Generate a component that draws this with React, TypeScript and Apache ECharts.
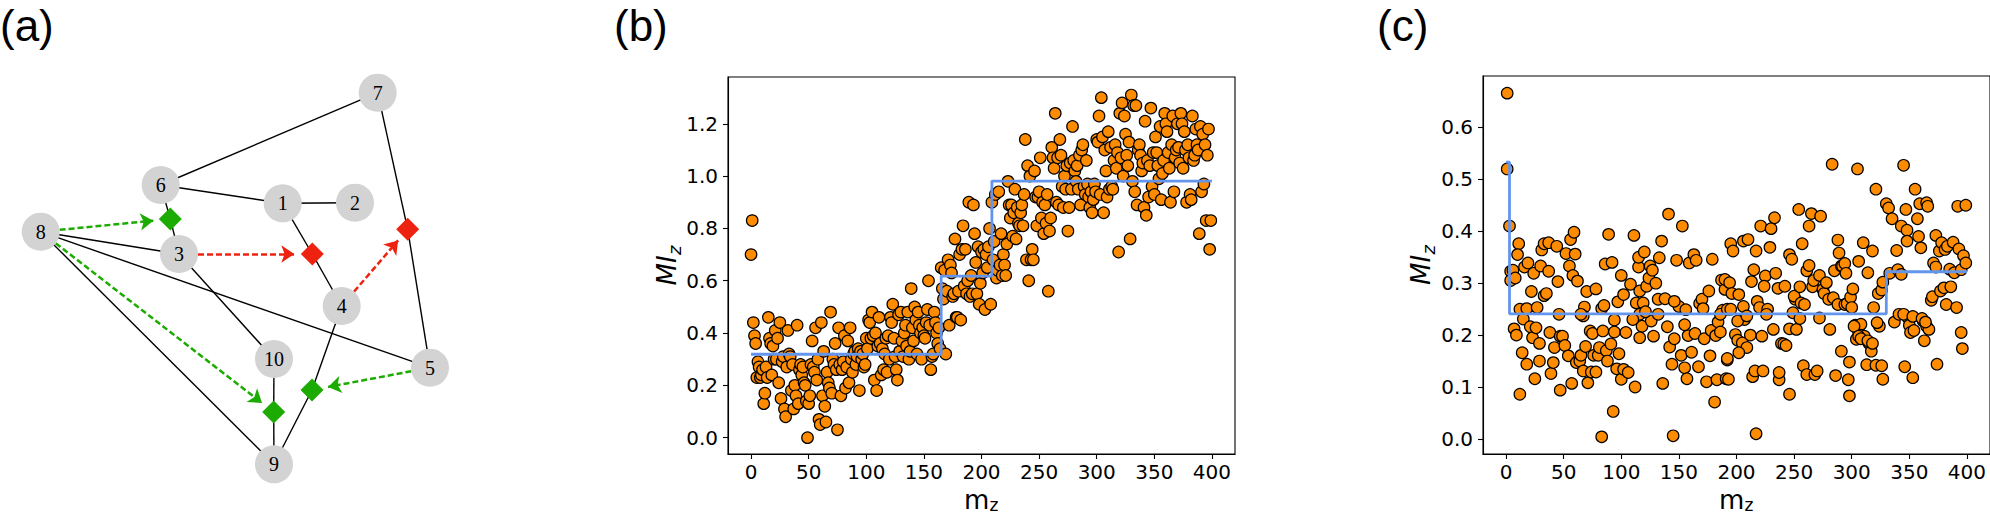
import React, { useEffect, useRef } from "react";
import * as echarts from "echarts";

// ---------- Panel (a): network ----------
const NODES: [string, number, number][] = [
  ["1", 282.7, 203.3], ["2", 355, 202.7], ["3", 179, 254], ["4", 341.7, 306],
  ["5", 430, 367.7], ["6", 160.7, 185], ["7", 377.7, 92.7], ["8", 40.7, 231.7],
  ["9", 274, 464.3], ["10", 274, 359],
];
const DIAMONDS: [string, number, number, string][] = [
  ["G1", 170.3, 219, "green"], ["R1", 312.3, 254, "red"], ["R2", 407.7, 229.3, "red"],
  ["G2", 312, 390, "green"], ["G3", 273.7, 412, "green"],
];
const EDGES: [string, string][] = [
  ["7", "6"], ["6", "1"], ["1", "2"], ["1", "R1"], ["R1", "4"], ["7", "R2"], ["R2", "5"],
  ["6", "G1"], ["G1", "3"], ["8", "3"], ["8", "5"], ["8", "9"], ["3", "10"],
  ["4", "G2"], ["G2", "9"], ["10", "G3"], ["G3", "9"],
];
const ARROWS: [string, string, string][] = [
  ["8", "G1", "green"], ["3", "R1", "red"], ["4", "R2", "red"], ["8", "G3", "green"], ["5", "G2", "green"],
];
const COLORS: Record<string, string> = { green: "#1cab00", red: "#ee2211" };

// ---------- Panel (b) ----------
const X_TICKS = [0, 50, 100, 150, 200, 250, 300, 350, 400];
const B_Y_TICKS = [0, 0.2, 0.4, 0.6, 0.8, 1.0, 1.2];
const B_MI = [
  0.70, 0.83, 0.44, 0.39, 0.36, 0.23, 0.29, 0.27, 0.23, 0.24,
  0.26, 0.13, 0.17, 0.27, 0.23, 0.46, 0.38, 0.36, 0.24, 0.35,
  0.30, 0.41, 0.30, 0.38, 0.21, 0.44, 0.15, 0.29, 0.31, 0.11,
  0.08, 0.27, 0.41, 0.32, 0.31, 0.18, 0.28, 0.11, 0.20, 0.16,
  0.43, 0.13, 0.26, 0.28, 0.24, 0.27, 0.21, 0.20, 0.14, 0.00,
  0.13, 0.16, 0.28, 0.37, 0.27, 0.25, 0.42, 0.22, 0.30, 0.07,
  0.05, 0.44, 0.16, 0.33, 0.12, 0.06, 0.25, 0.21, 0.19, 0.48,
  0.17, 0.30, 0.28, 0.36, 0.26, 0.03, 0.42, 0.28, 0.16, 0.26,
  0.29, 0.39, 0.19, 0.27, 0.37, 0.21, 0.42, 0.30, 0.25, 0.32,
  0.33, 0.28, 0.31, 0.34, 0.18, 0.33, 0.30, 0.32, 0.27, 0.28,
  0.38, 0.34, 0.45, 0.44, 0.38, 0.48, 0.39, 0.22, 0.40, 0.18,
  0.35, 0.46, 0.36, 0.24, 0.34, 0.26, 0.32, 0.38, 0.25, 0.39,
  0.30, 0.46, 0.44, 0.51, 0.38, 0.31, 0.26, 0.22, 0.47, 0.33,
  0.48, 0.37, 0.31, 0.40, 0.43, 0.35, 0.48, 0.30, 0.33, 0.57,
  0.42, 0.37, 0.50, 0.45, 0.32, 0.48, 0.43, 0.40, 0.30, 0.42,
  0.39, 0.38, 0.44, 0.49, 0.60, 0.43, 0.26, 0.31, 0.32, 0.48,
  0.44, 0.40, 0.36, 0.42, 0.34, 0.65, 0.57, 0.53, 0.64, 0.32,
  0.56, 0.68, 0.43, 0.66, 0.63, 0.54, 0.55, 0.76, 0.46, 0.46,
  0.56, 0.70, 0.45, 0.72, 0.81, 0.58, 0.72, 0.55, 0.60, 0.90,
  0.54, 0.62, 0.55, 0.89, 0.78, 0.67, 0.55, 0.73, 0.51, 0.59,
  0.71, 0.63, 0.72, 0.49, 0.70, 0.65, 0.73, 0.80, 0.51, 0.90,
  0.68, 0.75, 0.93, 0.61, 0.64, 0.94, 0.66, 0.78, 0.62, 0.70,
  0.66, 0.62, 0.74, 0.98, 0.89, 0.84, 0.89, 0.77, 0.86, 0.95,
  0.76, 0.88, 0.82, 0.81, 0.86, 0.89, 0.81, 0.93, 1.14, 0.68,
  1.04, 0.60, 1.00, 0.68, 0.72, 0.68, 1.02, 0.92, 0.81, 0.92,
  0.94, 1.07, 0.84, 0.90, 0.78, 0.89, 0.82, 0.93, 0.56, 0.79,
  0.84, 1.11, 1.07, 1.03, 1.24, 0.90, 1.07, 0.89, 1.14, 1.08,
  0.96, 0.88, 1.00, 0.95, 1.04, 0.79, 0.88, 1.05, 0.95, 1.19,
  1.06, 1.02, 0.98, 1.04, 0.95, 1.08, 0.89, 1.10, 1.12, 0.96,
  0.93, 1.06, 0.97, 0.92, 0.88, 0.94, 0.86, 0.91, 0.97, 0.94,
  1.14, 1.13, 1.23, 0.93, 1.30, 1.15, 0.86, 1.10, 1.02, 0.92,
  1.17, 0.95, 1.11, 0.96, 0.95, 1.06, 1.12, 1.03, 1.09, 0.71,
  1.24, 1.07, 1.28, 1.00, 1.23, 1.16, 1.08, 1.04, 1.13, 0.76,
  1.31, 0.98, 1.27, 0.94, 1.27, 0.89, 1.10, 1.12, 1.08, 1.02,
  1.05, 0.88, 1.21, 0.85, 1.06, 0.92, 1.04, 1.26, 0.96, 1.09,
  0.93, 1.15, 1.09, 1.04, 0.99, 1.19, 0.91, 1.01, 1.06, 1.24,
  1.20, 1.17, 1.09, 1.03, 0.90, 1.12, 1.23, 0.94, 1.07, 1.10,
  1.20, 1.11, 1.05, 1.24, 1.20, 1.03, 1.17, 1.10, 0.90, 1.12,
  1.07, 0.93, 0.91, 1.23, 1.06, 1.08, 1.18, 1.12, 1.10, 0.78,
  1.19, 0.94, 1.16, 0.97, 1.12, 0.83, 1.08, 1.18, 0.72, 0.83,
];
const B_STEP_EDGES = [0, 165, 209, 400];
const B_STEP_LEVELS = [0.319, 0.618, 0.981];

// ---------- Panel (c) ----------
const C_Y_TICKS = [0, 0.1, 0.2, 0.3, 0.4, 0.5, 0.6];
const C_POINTS: [number, number][] = [
  [1, 0.666], [1, 0.52], [3, 0.41], [4, 0.323], [6, 0.325], [4, 0.305], [8, 0.31], [11, 0.376], [10, 0.355], [12, 0.25],
  [7, 0.212], [9, 0.2], [15, 0.231], [18, 0.251], [16, 0.331], [19, 0.339], [12, 0.086], [14, 0.166], [18, 0.144], [21, 0.216],
  [23, 0.195], [24, 0.319], [26, 0.214], [27, 0.253], [29, 0.184], [25, 0.116], [29, 0.15], [22, 0.284], [30, 0.333], [31, 0.364],
  [33, 0.376], [33, 0.276], [35, 0.28], [37, 0.378], [37, 0.323], [38, 0.205], [39, 0.126], [41, 0.147], [42, 0.176], [44, 0.371],
  [45, 0.303], [46, 0.24], [47, 0.198], [47, 0.094], [49, 0.198], [51, 0.18], [52, 0.357], [55, 0.333], [56, 0.384], [58, 0.315],
  [59, 0.398], [60, 0.356], [62, 0.304], [54, 0.16], [57, 0.107], [61, 0.147], [64, 0.15], [65, 0.161], [69, 0.178], [68, 0.254],
  [67, 0.237], [70, 0.284], [67, 0.131], [71, 0.108], [73, 0.208], [74, 0.129], [75, 0.203], [76, 0.161], [78, 0.129], [78, 0.289],
  [80, 0.161], [81, 0.176], [83, 0.004], [83, 0.251], [85, 0.257], [86, 0.337], [84, 0.208], [87, 0.17], [88, 0.15], [89, 0.394],
  [91, 0.183], [92, 0.34], [93, 0.053], [94, 0.229], [94, 0.206], [96, 0.135], [97, 0.264], [98, 0.164], [100, 0.315], [100, 0.115],
  [102, 0.134], [102, 0.278], [104, 0.205], [106, 0.128], [108, 0.298], [111, 0.392], [112, 0.1], [113, 0.262], [115, 0.331], [115, 0.35],
  [116, 0.285], [118, 0.217], [119, 0.262], [116, 0.195], [120, 0.36], [122, 0.294], [124, 0.31], [125, 0.333], [126, 0.227], [127, 0.325],
  [128, 0.198], [130, 0.3], [132, 0.24], [132, 0.269], [133, 0.349], [135, 0.381], [136, 0.107], [138, 0.27], [140, 0.216], [141, 0.433],
  [142, 0.177], [144, 0.144], [145, 0.006], [146, 0.193], [148, 0.344], [150, 0.255], [152, 0.161], [153, 0.41], [155, 0.137], [156, 0.249],
  [157, 0.116], [158, 0.199], [159, 0.339], [161, 0.167], [163, 0.355], [164, 0.203], [165, 0.344], [167, 0.139], [168, 0.261], [170, 0.269],
  [171, 0.251], [172, 0.193], [174, 0.11], [176, 0.285], [177, 0.16], [178, 0.209], [179, 0.346], [181, 0.071], [182, 0.199], [183, 0.114],
  [184, 0.225], [186, 0.206], [187, 0.306], [188, 0.248], [190, 0.288], [191, 0.116], [192, 0.152], [116, 0.24], [121, 0.245], [207, 0.23],
  [186, 0.24], [65, 0.24], [110, 0.23], [146, 0.265], [155, 0.22],
  [190, 0.307], [194, 0.301], [195, 0.376], [197, 0.362], [192, 0.155], [193, 0.115], [196, 0.28], [202, 0.278], [201, 0.227], [206, 0.381],
  [210, 0.384], [206, 0.255], [209, 0.237], [199, 0.201], [201, 0.19], [205, 0.185], [209, 0.176], [212, 0.2], [202, 0.166], [217, 0.362],
  [215, 0.326], [213, 0.303], [214, 0.12], [216, 0.131], [221, 0.41], [218, 0.265], [220, 0.253], [223, 0.131], [222, 0.198], [225, 0.314],
  [224, 0.294], [227, 0.25], [229, 0.369], [230, 0.405], [232, 0.211], [233, 0.426], [234, 0.319], [236, 0.29], [237, 0.114], [237, 0.128],
  [239, 0.184], [241, 0.183], [242, 0.294], [243, 0.18], [246, 0.086], [246, 0.355], [248, 0.346], [246, 0.212], [251, 0.269], [250, 0.275],
  [252, 0.211], [254, 0.442], [255, 0.293], [257, 0.376], [256, 0.262], [259, 0.259], [258, 0.141], [261, 0.324], [261, 0.124], [263, 0.41],
  [263, 0.334], [265, 0.434], [266, 0.293], [267, 0.305], [268, 0.124], [270, 0.131], [272, 0.315], [273, 0.429], [275, 0.288], [276, 0.28],
  [278, 0.301], [280, 0.269], [281, 0.211], [283, 0.529], [284, 0.272], [285, 0.324], [286, 0.122], [288, 0.259], [288, 0.383], [289, 0.358],
  [291, 0.169], [291, 0.333], [292, 0.333], [294, 0.338], [294, 0.259], [295, 0.319], [296, 0.261], [298, 0.148], [299, 0.273], [297, 0.114],
  [300, 0.253], [301, 0.289], [303, 0.219], [304, 0.192], [305, 0.52], [306, 0.342], [306, 0.205], [308, 0.221], [308, 0.2], [310, 0.378],
  [311, 0.198], [313, 0.143], [314, 0.32], [315, 0.184], [317, 0.169], [318, 0.362], [319, 0.253], [321, 0.481], [321, 0.142], [323, 0.28],
  [324, 0.217], [326, 0.141], [327, 0.115], [326, 0.287], [327, 0.302], [330, 0.453], [332, 0.445], [333, 0.319], [335, 0.424], [337, 0.225],
  [339, 0.363], [340, 0.326], [341, 0.24], [343, 0.41], [343, 0.317], [345, 0.527], [346, 0.139], [347, 0.442], [348, 0.402], [348, 0.381],
  [349, 0.233], [350, 0.219], [351, 0.205], [353, 0.118], [354, 0.209], [355, 0.481], [357, 0.424], [358, 0.39], [359, 0.453], [360, 0.368],
  [362, 0.227], [363, 0.189], [365, 0.455], [366, 0.448], [365, 0.217], [367, 0.211], [369, 0.267], [370, 0.274], [371, 0.339], [373, 0.392],
  [373, 0.331], [374, 0.144], [376, 0.362], [377, 0.285], [378, 0.378], [380, 0.291], [381, 0.365], [382, 0.259], [383, 0.371], [385, 0.327],
  [386, 0.293], [388, 0.379], [389, 0.32], [391, 0.253], [392, 0.448], [393, 0.366], [395, 0.326], [395, 0.205], [396, 0.174], [397, 0.353],
  [399, 0.45], [399, 0.339], [192, 0.25], [195, 0.25], [226, 0.24], [249, 0.243], [255, 0.232], [272, 0.233], [322, 0.224], [345, 0.24],
  [353, 0.236], [361, 0.232], [364, 0.225], [302, 0.217], [306, 0.198], [308, 0.193], [314, 0.189], [318, 0.184], [217, 0.01], [298, 0.083],
];
const C_STEP_EDGES = [0, 3, 330, 400];
const C_STEP_LEVELS = [0.533, 0.241, 0.322];

// ---------- layout ----------
const B_GRID = { left: 728, top: 77, width: 507, height: 377 };
const C_GRID = { left: 1483, top: 76, width: 507, height: 378 };

function stepData(edges: number[], levels: number[]) {
  const d: number[][] = [];
  levels.forEach((l, i) => {
    d.push([edges[i], l]);
    d.push([edges[i + 1], l]);
  });
  return d;
}

export default function App() {
  const ref = useRef<HTMLDivElement>(null);
  useEffect(() => {
    if (!ref.current) return;
    const chart = echarts.init(ref.current, null, { renderer: "svg" });

    const pos: Record<string, [number, number]> = {};
    NODES.forEach(([id, x, y]) => (pos[id] = [x, y]));
    DIAMONDS.forEach(([id, x, y]) => (pos[id] = [x, y]));
    const NODE_R = 19;
    const DIA_H = 11.5;
    const ARROW_LEN = 13;

    const arrowData = ARROWS.map(([a, b, c]) => {
      const [x1, y1] = pos[a];
      const [x2, y2] = pos[b];
      const dx = x2 - x1, dy = y2 - y1;
      const len = Math.hypot(dx, dy);
      const ux = dx / len, uy = dy / len;
      const dEnd = DIA_H / (Math.abs(ux) + Math.abs(uy)) + ARROW_LEN / 2;
      return {
        coords: [
          [x1 + ux * NODE_R, y1 + uy * NODE_R],
          [x2 - ux * dEnd, y2 - uy * dEnd],
        ],
        lineStyle: { color: COLORS[c] },
      };
    });

    const valueAxisX = (gridIndex: number) => ({
      type: "value",
      gridIndex,
      min: -20,
      max: 420,
      axisLine: { show: true, onZero: false, lineStyle: { color: "#000", width: 1.1 } },
      axisTick: { show: true, length: 5, customValues: X_TICKS, lineStyle: { color: "#000", width: 1.1 } },
      axisLabel: {
        customValues: X_TICKS,
        fontSize: 20,
        fontFamily: "DejaVu Sans",
        color: "#000",
        margin: 8,
      },
      splitLine: { show: false },
    });
    const valueAxisY = (gridIndex: number, min: number, max: number, ticks: number[]) => ({
      type: "value",
      gridIndex,
      min,
      max,
      axisLine: { show: true, onZero: false, lineStyle: { color: "#000", width: 1.1 } },
      axisTick: { show: true, length: 5, customValues: ticks, lineStyle: { color: "#000", width: 1.1 } },
      axisLabel: {
        customValues: ticks,
        fontSize: 20,
        fontFamily: "DejaVu Sans",
        color: "#000",
        margin: 10,
        formatter: (v: number) => v.toFixed(1),
      },
      splitLine: { show: false },
    });

    const xLabel = (cx: number) => ({
      type: "group",
      x: cx - 17.5,
      y: 508,
      children: [
        { type: "text", x: 0, y: -8, style: { text: "m", fontSize: 26, fontFamily: "DejaVu Sans", fill: "#000", textVerticalAlign: "middle" } },
        { type: "text", x: 25.5, y: -3, style: { text: "z", fontSize: 17, fontFamily: "DejaVu Sans", fill: "#000", textVerticalAlign: "middle" } },
      ],
    });
    const yLabel = (bx: number, cy: number) => ({
      type: "group",
      x: bx,
      y: cy,
      rotation: Math.PI / 2,
      children: [
        { type: "text", x: -20, y: -9, style: { text: "MI", fontSize: 26, fontStyle: "italic", fontFamily: "DejaVu Sans", fill: "#000", textVerticalAlign: "middle" } },
        { type: "text", x: 10.5, y: -2, style: { text: "z", fontSize: 18, fontStyle: "italic", fontFamily: "DejaVu Sans", fill: "#000", textVerticalAlign: "middle" } },
      ],
    });
    const panelTitle = (x: number, t: string) => ({
      type: "text",
      x,
      y: 3,
      style: { text: t, fontSize: 44, fontFamily: "Liberation Sans", fill: "#000", textVerticalAlign: "top" },
    });

    const option: any = {
      animation: false,
      grid: [
        { left: 0, top: 0, width: 700, height: 517 },
        { ...B_GRID, show: true, borderColor: "#000", borderWidth: 1.1, backgroundColor: "transparent" },
        { ...C_GRID, show: true, borderColor: "#000", borderWidth: 1.1, backgroundColor: "transparent" },
      ],
      xAxis: [
        { type: "value", gridIndex: 0, min: 0, max: 700, show: false },
        valueAxisX(1),
        valueAxisX(2),
      ],
      yAxis: [
        { type: "value", gridIndex: 0, min: 0, max: 517, inverse: true, show: false },
        valueAxisY(1, -0.0625, 1.379, B_Y_TICKS),
        valueAxisY(2, -0.029, 0.699, C_Y_TICKS),
      ],
      graphic: [
        panelTitle(0, "(a)"),
        panelTitle(614, "(b)"),
        panelTitle(1377, "(c)"),
        xLabel(B_GRID.left + B_GRID.width / 2),
        xLabel(C_GRID.left + C_GRID.width / 2),
        yLabel(B_GRID.left - 52, B_GRID.top + B_GRID.height / 2),
        yLabel(C_GRID.left - 53, C_GRID.top + C_GRID.height / 2),
      ],
      series: [
        {
          type: "lines",
          coordinateSystem: "cartesian2d",
          xAxisIndex: 0,
          yAxisIndex: 0,
          symbol: "none",
          lineStyle: { color: "#000", width: 1.4, opacity: 1 },
          data: EDGES.map(([a, b]) => ({ coords: [pos[a], pos[b]] })),
          z: 1,
        },
        {
          type: "lines",
          coordinateSystem: "cartesian2d",
          xAxisIndex: 0,
          yAxisIndex: 0,
          symbol: ["none", "arrow"],
          symbolSize: [11, ARROW_LEN],
          lineStyle: { width: 2.5, type: [6, 3], opacity: 1 },
          data: arrowData,
          z: 2,
        },
        {
          type: "scatter",
          xAxisIndex: 0,
          yAxisIndex: 0,
          symbol: "circle",
          symbolSize: NODE_R * 2,
          itemStyle: { color: "#d3d3d3", opacity: 1 },
          label: {
            show: true,
            position: "inside",
            formatter: "{b}",
            fontFamily: "Liberation Serif",
            fontSize: 20,
            color: "#000",
          },
          data: NODES.map(([id, x, y]) => ({ name: id, value: [x, y] })),
          z: 3,
        },
        {
          type: "scatter",
          xAxisIndex: 0,
          yAxisIndex: 0,
          symbol: "diamond",
          symbolSize: DIA_H * 2,
          data: DIAMONDS.map(([id, x, y, c]) => ({ name: id, value: [x, y], itemStyle: { color: COLORS[c], opacity: 1 } })),
          z: 4,
        },
        {
          type: "scatter",
          xAxisIndex: 1,
          yAxisIndex: 1,
          symbolSize: 11.5,
          itemStyle: { color: "#ff8c00", borderColor: "#000", borderWidth: 1.2, opacity: 1 },
          data: B_MI.map((v, i) => [i, v]),
          z: 2,
        },
        {
          type: "line",
          xAxisIndex: 1,
          yAxisIndex: 1,
          showSymbol: false,
          symbol: "none",
          lineStyle: { color: "#6495ed", width: 2.8 },
          data: stepData(B_STEP_EDGES, B_STEP_LEVELS),
          z: 3,
        },
        {
          type: "scatter",
          xAxisIndex: 2,
          yAxisIndex: 2,
          symbolSize: 11.5,
          itemStyle: { color: "#ff8c00", borderColor: "#000", borderWidth: 1.2, opacity: 1 },
          data: C_POINTS,
          z: 2,
        },
        {
          type: "line",
          xAxisIndex: 2,
          yAxisIndex: 2,
          showSymbol: false,
          symbol: "none",
          lineStyle: { color: "#6495ed", width: 2.8 },
          data: stepData(C_STEP_EDGES, C_STEP_LEVELS),
          z: 3,
        },
      ],
    };
    chart.setOption(option);
    return () => chart.dispose();
  }, []);

  return (
    <div
      ref={ref}
      style={{ position: "absolute", left: 0, top: 0, width: 1990, height: 517 }}
    />
  );
}
